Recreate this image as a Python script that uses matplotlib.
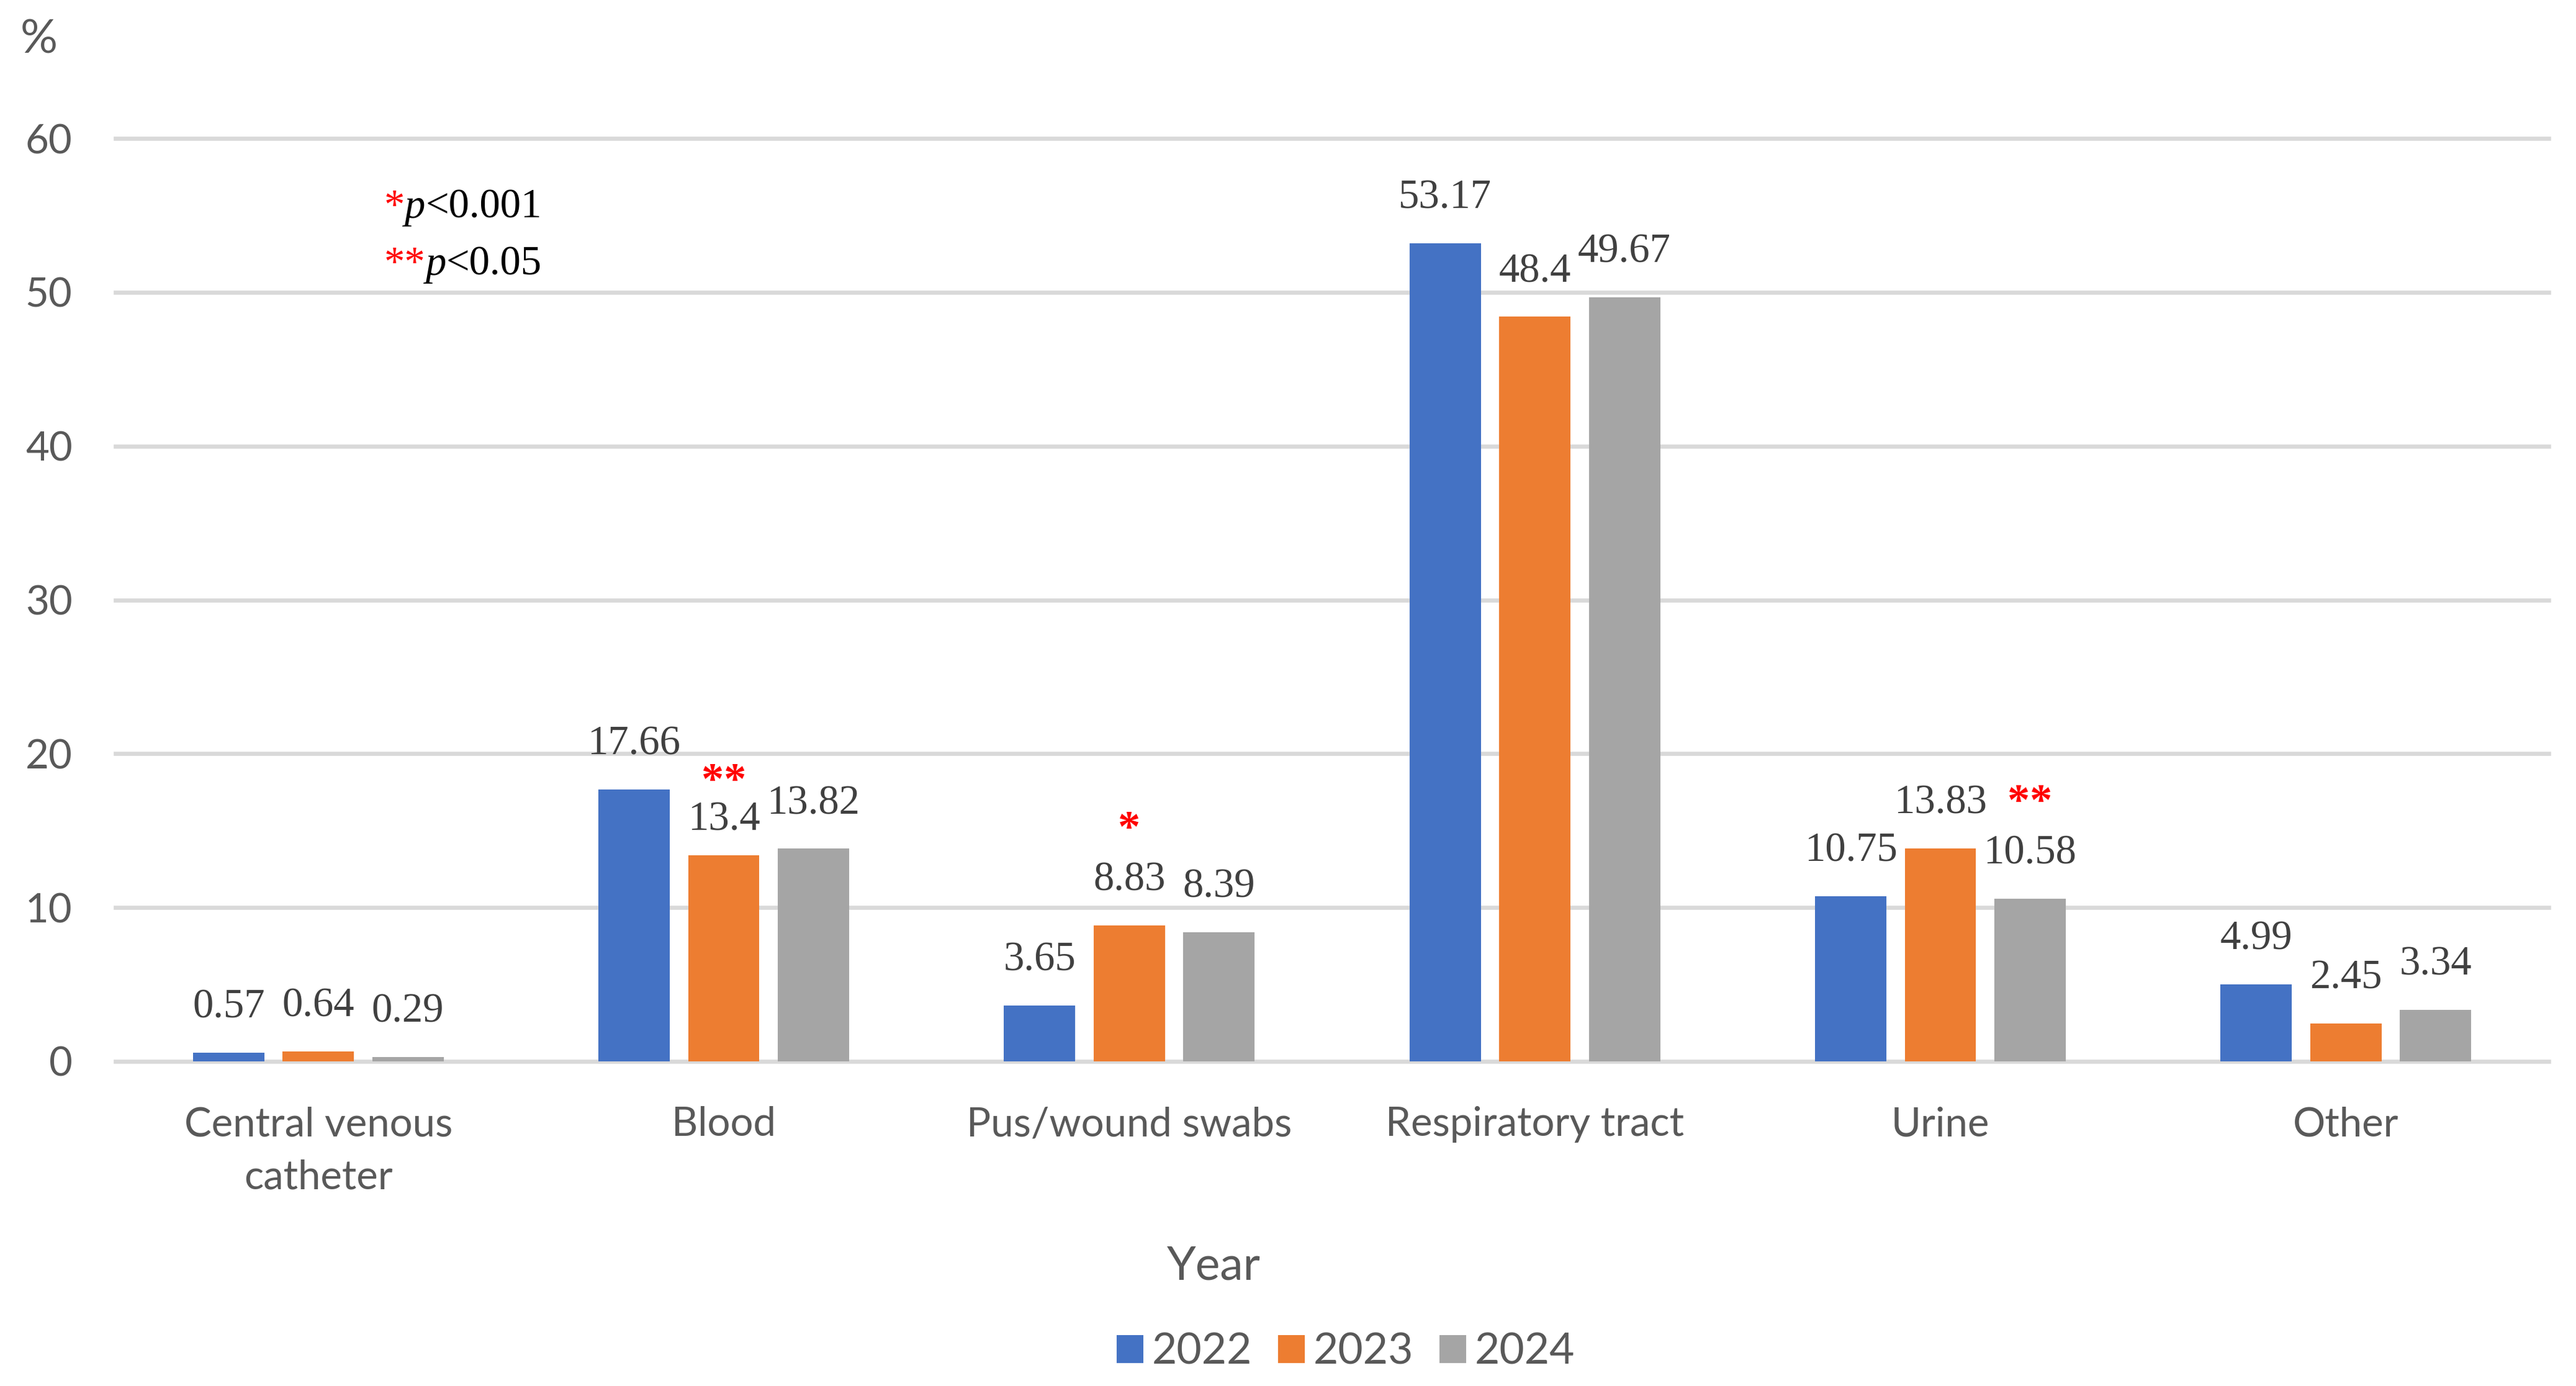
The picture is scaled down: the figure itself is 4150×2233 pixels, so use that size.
import matplotlib
matplotlib.use("Agg")
import matplotlib.pyplot as plt
import numpy as np
from matplotlib.patches import Patch

# ---------------- data ----------------
categories = ["Central venous\ncatheter", "Blood", "Pus/wound swabs",
              "Respiratory tract", "Urine", "Other"]
years = ["2022", "2023", "2024"]
values_2022 = [0.57, 17.66, 3.65, 53.17, 10.75, 4.99]
values_2023 = [0.64, 13.4, 8.83, 48.4, 13.83, 2.45]
values_2024 = [0.29, 13.82, 8.39, 49.67, 10.58, 3.34]
y_ticks = [0, 10, 20, 30, 40, 50, 60]
# significance marks: (category index, series index, mark)
sig_marks = [(1, 1, "**"), (2, 1, "*"), (4, 2, "**")]
sig_legend = [("*", "p", "<0.001"), ("**", "p", "<0.05")]

series = [values_2022, values_2023, values_2024]
colors = ["#4472C4", "#ED7D31", "#A5A5A5"]

SANS = ["Lato", "DejaVu Sans"]
SERIF = ["Liberation Serif", "DejaVu Serif"]
TICK_COLOR = "#595959"
LABEL_COLOR = "#404040"

DPI = 200
fig = plt.figure(figsize=(4150 / DPI, 2233 / DPI), dpi=DPI)
ax = fig.add_axes([186 / 4150, 1 - 1710 / 2233, (4106 - 186) / 4150, (1710 - 223) / 2233])

x = np.arange(len(categories))
width = 0.176
step = 0.221
label_offset = 20.3                # points above bar top (baseline)
label_nudge = {(1, 1): -5.8}       # manually moved label in the original
for i, (vals, col) in enumerate(zip(series, colors)):
    ax.bar(x + (i - 1) * step, vals, width=width, color=col, zorder=3,
           label=years[i])
    for ci, (xi, v) in enumerate(zip(x + (i - 1) * step, vals)):
        off = label_offset + label_nudge.get((ci, i), 0)
        ax.annotate(f"{v:g}", xy=(xi, v), xytext=(0, off),
                    textcoords="offset points", ha="center", va="baseline",
                    fontsize=24, family=SERIF, color=LABEL_COLOR, zorder=4)

# significance asterisks above bars
sig_offsets = {(1, 1): 36, (2, 1): 49, (4, 2): 49}  # points above bar top (baseline)
for ci, si, mark in sig_marks:
    xi = x[ci] + (si - 1) * step
    v = series[si][ci]
    ax.annotate(mark, xy=(xi, v), xytext=(0, sig_offsets[(ci, si)]),
                textcoords="offset points", ha="center", va="baseline",
                fontsize=26, family=SERIF, weight="bold", color="#FF0000",
                zorder=4)

ax.set_xlim(-0.5, len(categories) - 0.5)
ax.set_ylim(0, 60)
ax.set_yticks(y_ticks)
ax.set_yticklabels([str(t) for t in y_ticks], family=SANS, fontsize=23.5,
                   color=TICK_COLOR)
ax.set_xticks(x)
ax.set_xticklabels(categories, family=SANS, fontsize=23.5, color=TICK_COLOR,
                   linespacing=1.55)
ax.tick_params(axis="both", length=0)
ax.tick_params(axis="y", pad=25)
ax.tick_params(axis="x", pad=26)
for s in ax.spines.values():
    s.set_visible(False)
ax.yaxis.grid(True, color="#D9D9D9", linewidth=2.4, zorder=0)
ax.set_axisbelow(True)
for gl in ax.get_ygridlines():
    gl.set_clip_on(False)

# significance legend text (chained)
yb = [54.84, 51.13]
for (star, pp, rest), yy in zip(sig_legend, yb):
    t1 = ax.text(0.1626, yy, star, ha="left", va="baseline", fontsize=24,
                 family=SERIF, color="#FF0000")
    t2 = ax.annotate(pp, xy=(1, 0), xycoords=t1, ha="left", va="bottom",
                     fontsize=24, family=SERIF, style="italic", color="black")
    ax.annotate(rest, xy=(1, 0), xycoords=t2, ha="left", va="bottom",
                fontsize=24, family=SERIF, color="black")

# axis titles
fig.text(33 / 4150, 1 - 85 / 2233, "%", ha="left", va="baseline",
         family=SANS, fontsize=27, color=TICK_COLOR)
fig.text(1955 / 4150, 1 - 2062 / 2233, "Year", ha="center", va="baseline",
         family=SANS, fontsize=27, color=TICK_COLOR)

handles = [Patch(facecolor=c, edgecolor="none") for c in colors]
fig.legend(handles, years, loc="center", bbox_to_anchor=(2168 / 4150, 1 - 2178 / 2233),
           ncol=3, frameon=False, prop={"family": SANS, "size": 25},
           labelcolor=TICK_COLOR, handlelength=0.62, handleheight=0.62,
           handletextpad=0.2, columnspacing=0.6)

fig.savefig("out.png", dpi=DPI, facecolor="white")
